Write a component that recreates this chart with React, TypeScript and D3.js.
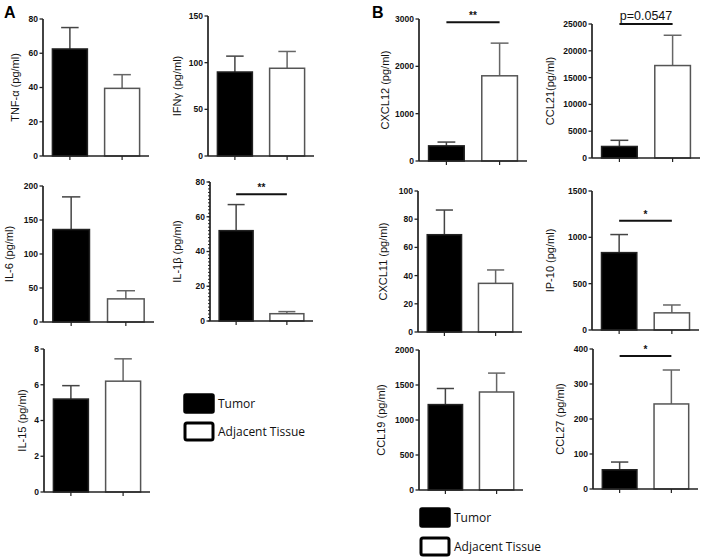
import React from "react";
import * as d3 from "d3";

// ---------- data ----------
const groups = ["Tumor", "Adjacent Tissue"];
const panelNames = [
  "TNF-α (pg/ml)",
  "IFNγ (pg/ml)",
  "IL-6 (pg/ml)",
  "IL-1β (pg/ml)",
  "IL-15 (pg/ml)",
  "CXCL12 (pg/ml)",
  "CCL21(pg/ml)",
  "CXCL11 (pg/ml)",
  "IP-10 (pg/ml)",
  "CCL19 (pg/ml)",
  "CCL27 (pg/ml)",
];
const yMaxes = [80, 150, 200, 80, 8, 3000, 25000, 100, 1500, 2000, 400];
const yTickSteps = [20, 50, 50, 20, 2, 1000, 5000, 20, 500, 500, 100];
const minorTickSteps = [0, 0, 0, 2, 0, 0, 0, 0, 0, 0, 0];
const tumorMeans = [62.5, 90, 136, 52, 5.2, 320, 2150, 69, 835, 1220, 55];
const tumorErrs = [12.5, 17, 48, 15, 0.75, 80, 1150, 17.5, 195, 230, 22];
const adjMeans = [39.5, 94, 34, 4.2, 6.2, 1800, 17250, 34.5, 185, 1400, 243];
const adjErrs = [8, 18, 12, 1.2, 1.25, 690, 5650, 9.5, 85, 270, 97];
const sigLabels = ["", "", "", "**", "", "**", "p=0.0547", "", "*", "", "*"];
const sigLevels = [0, 0, 0, 73, 0, 2930, 25000, 0, 1180, 0, 380];
const sectionLetters = ["A", "B"];

// ---------- layout (pixels) ----------
// [axisX, axisEndX, topY, bottomY, labelOffset]
const panelFrames: number[][] = [
  [43, 149, 19, 156, 28],
  [208, 314, 16, 156, 31],
  [43, 154, 186, 322, 34],
  [210, 313, 182, 321, 33],
  [44, 150, 349, 492, 22],
  [419, 527, 19, 161, 34],
  [592, 700, 24, 158, 42],
  [418, 522, 191, 332, 35],
  [592, 699, 191, 330, 42],
  [419, 523, 350, 490, 38],
  [593, 698, 349, 489, 33],
];
const letterPos = [
  [4, 18],
  [372, 18],
];
// [rectX, tumorY, adjY]
const legendPos = [
  [184, 394, 422],
  [420, 508, 537],
];

const AX = "#222";
const FONT = "Liberation Sans, Arial, sans-serif";

function Panel({ i }: { i: number }) {
  const [x0, x1, yT, yB, ldx] = panelFrames[i];
  const y = d3.scaleLinear().domain([0, yMaxes[i]]).range([yB, yT]);
  const x = d3
    .scaleBand<string>()
    .domain(groups)
    .range([x0, x1])
    .paddingInner(0.33)
    .paddingOuter(0.18);
  const ticks = d3.range(0, yMaxes[i] + yTickSteps[i] / 2, yTickSteps[i]);
  const minor =
    minorTickSteps[i] > 0
      ? d3.range(0, yMaxes[i] + minorTickSteps[i] / 2, minorTickSteps[i])
      : [];
  const means = [tumorMeans[i], adjMeans[i]];
  const errs = [tumorErrs[i], adjErrs[i]];
  const bw = x.bandwidth();
  const cap = bw * 0.5;
  const cx = (g: string) => (x(g) as number) + bw / 2;
  return (
    <g>
      {groups.map((g, k) => (
        <g key={g}>
          <line
            x1={cx(g)}
            x2={cx(g)}
            y1={y(means[k])}
            y2={y(means[k] + errs[k])}
            stroke={k === 0 ? "#444" : "#666"}
            strokeWidth={1.5}
          />
          <line
            x1={cx(g) - cap / 2}
            x2={cx(g) + cap / 2}
            y1={y(means[k] + errs[k])}
            y2={y(means[k] + errs[k])}
            stroke={k === 0 ? "#444" : "#666"}
            strokeWidth={1.5}
          />
          <rect
            x={x(g)}
            y={y(means[k])}
            width={bw}
            height={yB - y(means[k])}
            fill={k === 0 ? "#000" : "#fff"}
            stroke={k === 0 ? "#222" : "#555"}
            strokeWidth={1.5}
          />
          <line x1={cx(g)} x2={cx(g)} y1={yB} y2={yB + 4} stroke={AX} strokeWidth={1.2} />
        </g>
      ))}
      <line x1={x0} x2={x0} y1={yT} y2={yB} stroke={AX} strokeWidth={1.7} />
      <line x1={x0} x2={x1} y1={yB} y2={yB} stroke={AX} strokeWidth={1.7} />
      {minor.map((t) => (
        <line key={"m" + t} x1={x0 - 2} x2={x0} y1={y(t)} y2={y(t)} stroke={AX} strokeWidth={1} />
      ))}
      {ticks.map((t) => (
        <g key={t}>
          <line x1={x0 - 3.5} x2={x0} y1={y(t)} y2={y(t)} stroke={AX} strokeWidth={1.3} />
          <text
            x={x0 - 5}
            y={y(t)}
            dy="0.35em"
            textAnchor="end"
            fontFamily={FONT}
            fontWeight="bold"
            fontSize={8.5}
            fill="#111"
          >
            {String(t)}
          </text>
        </g>
      ))}
      <text
        transform={`translate(${x0 - ldx},${(yT + yB) / 2}) rotate(-90)`}
        textAnchor="middle"
        dy="0.35em"
        fontFamily={FONT}
        fontSize={11}
        fill="#111"
      >
        {panelNames[i]}
      </text>
      {sigLabels[i] !== "" && (
        <g>
          <line
            x1={cx(groups[0])}
            x2={cx(groups[1])}
            y1={y(sigLevels[i])}
            y2={y(sigLevels[i])}
            stroke="#111"
            strokeWidth={2}
          />
          <text
            x={(cx(groups[0]) + cx(groups[1])) / 2}
            y={y(sigLevels[i]) - (sigLabels[i].startsWith("p") ? 4 : 3)}
            textAnchor="middle"
            fontFamily={FONT}
            fontWeight={sigLabels[i].startsWith("p") ? "normal" : "bold"}
            fontSize={sigLabels[i].startsWith("p") ? 12.5 : 10}
            fill="#111"
          >
            {sigLabels[i]}
          </text>
        </g>
      )}
    </g>
  );
}

function Legend({ j }: { j: number }) {
  const [lx, ty, ay] = legendPos[j];
  return (
    <g fontFamily="Open Sans, Noto Sans, sans-serif" fontSize={12} fill="#111">
      <rect x={lx} y={ty} width={30} height={19} rx={2} fill="#000" stroke="#000" strokeWidth={1.5} />
      <text x={lx + 34} y={ty + 10} dy="0.35em">
        {groups[0]}
      </text>
      <rect x={lx + 1} y={ay + 1} width={28} height={17} rx={2} fill="#fff" stroke="#000" strokeWidth={3} />
      <text x={lx + 34} y={ay + 10} dy="0.35em">
        {groups[1]}
      </text>
    </g>
  );
}

export default function App() {
  return (
    <svg
      width={707}
      height={558}
      style={{ position: "absolute", left: 0, top: 0, background: "#fff" }}
    >
      <rect width={707} height={558} fill="#fff" />
      {sectionLetters.map((s, j) => (
        <text
          key={s}
          x={letterPos[j][0]}
          y={letterPos[j][1]}
          fontFamily={FONT}
          fontWeight="bold"
          fontSize={16}
          fill="#000"
        >
          {s}
        </text>
      ))}
      {panelNames.map((_, i) => (
        <Panel key={i} i={i} />
      ))}
      <Legend j={0} />
      <Legend j={1} />
    </svg>
  );
}
